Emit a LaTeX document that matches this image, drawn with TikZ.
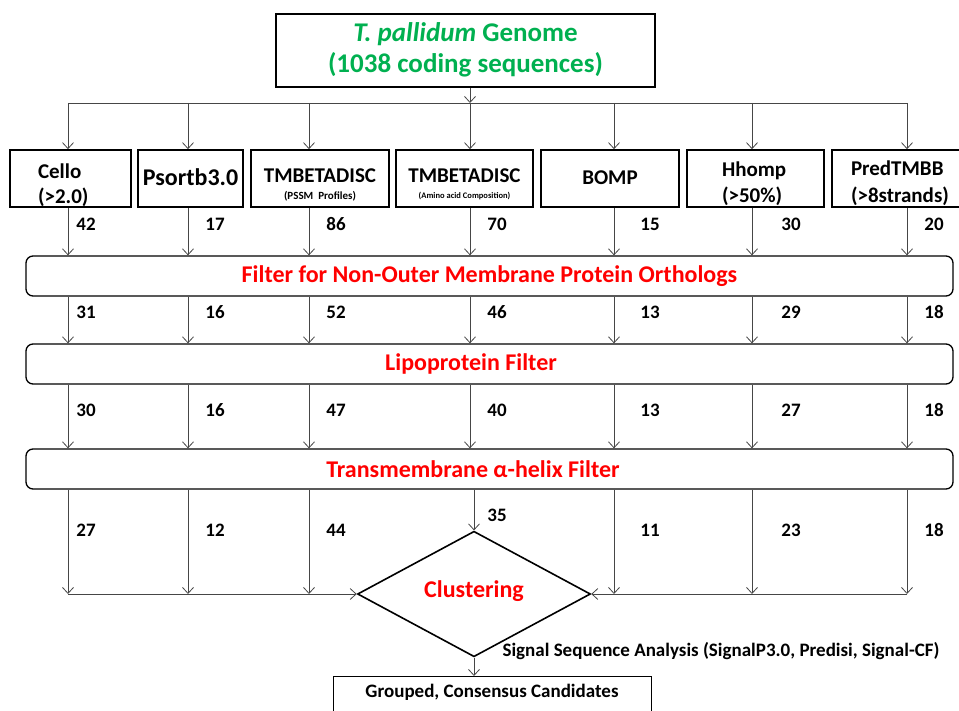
\documentclass[tikz,border=0pt]{standalone}
\usepackage{fontspec}
\setmainfont{Carlito}
\usetikzlibrary{arrows.meta,shapes.geometric,positioning}
\definecolor{tpgreen}{RGB}{0,176,80}
\definecolor{arrgray}{RGB}{70,70,70}
\newcommand{\fs}[1]{\bfseries\fontsize{#1}{#1}\selectfont}

\begin{document}
\begin{tikzpicture}[x=1pt,y=-1pt]

  \tikzset{
    tool/.style={draw,line width=1.6pt,minimum height=57pt,inner sep=0pt,
      align=center,font=\fs{21},text depth=0pt},
    filt/.style={draw,line width=1.3pt,rounded corners=7pt,minimum width=927pt,
      minimum height=40pt,text=red,font=\fs{24}},
    num/.style={font=\fs{19},text height=13pt,text depth=0pt},
    bus/.style={draw=arrgray,line width=0.8pt},
    flow/.style={bus,-{Straight Barb[length=6pt,width=11pt,line width=0.8pt]}}
  }
  \useasboundingbox (0,0) rectangle (959,711);

  % genome and the seven predictors
  \node[draw,line width=1.6pt,minimum width=379pt,minimum height=73pt,align=center,
    text=tpgreen,font=\fs{27},text height=45pt,text depth=0pt] (genome) at (465.5,50.5)
    {\textit{T. pallidum} Genome\\[4.5pt](1038 coding sequences)};

  \foreach \i/\x in {1/68,2/188,3/309,4/470,5/614,6/752,7/907}
    \coordinate (b\i) at (\x,103);

  \node[tool,minimum width=121pt,text width=65pt,align=left,text height=1pt]
    (cello) at (70.5,178.5) {Cello\\[4pt](>2.0)};
  \node[tool,minimum width=105pt,font=\fs{24},text height=15pt]
    (psortb) at (190.5,178.5) {Psortb3.0};
  \node[tool,minimum width=138pt,text height=43pt] (tmbpssm) at (320,178.5)
    {TMBETADISC\\[-4pt]{\fs{11}(PSSM~ Profiles)}};
  \node[tool,minimum width=137pt,text height=41pt] (tmbaa) at (464.5,178.5)
    {TMBETADISC\\[-5pt]{\fs{8.5}(Amino acid Composition)}};
  \node[tool,minimum width=138pt,text height=13pt] (bomp) at (610,178.5) {BOMP};
  \node[tool,minimum width=137pt,text width=67pt,align=left,text height=0pt,
    text depth=3pt] (hhomp) at (755.5,178.5) {Hhomp\\[5pt](>50\%)};
  \node[tool,minimum width=132pt,text width=94pt,align=left,text height=0pt,
    text depth=5pt] (predtmbb) at (898,178.5) {PredTMBB\\[6pt](>8strands)};

  \draw[flow] (b4 |- genome.south) -- (b4);
  \draw[bus] (b1) -- (b7);
  \foreach \i/\n in {1/cello,2/psortb,3/tmbpssm,4/tmbaa,5/bomp,6/hhomp,7/predtmbb}
    \draw[flow] (b\i) -- (b\i |- \n.north);

  % filters
  \node[filt] (omp) at (489.5,276) {Filter for Non-Outer Membrane Protein Orthologs};
  \node[filt] (lipo) at (489.5,364) {Lipoprotein Filter\hspace*{37pt}};
  \node[filt] (tmh) at (489.5,469) {Transmembrane α-helix Filter\hspace*{33pt}};

  \foreach \i/\n in {1/cello,2/psortb,3/tmbpssm,4/tmbaa,5/bomp,6/hhomp,7/predtmbb}{
    \draw[flow] (b\i |- \n.south) -- (b\i |- omp.north);
    \draw[flow] (b\i |- omp.south) -- (b\i |- lipo.north);
    \draw[flow] (b\i |- lipo.south) -- (b\i |- tmh.north);
  }

  \foreach \i/\x/\a/\b/\c/\d in {1/86/42/31/30/27,2/215/17/16/16/12,3/336/86/52/47/44,
      5/650/15/13/13/11,6/791/30/29/27/23,7/934/20/18/18/18}{
    \node[num] (na\i) at (\x,224) {\a};
    \node[num] (nb\i) at (\x,312) {\b};
    \node[num] (nc\i) at (\x,410) {\c};
    \node[num] (nd\i) at (\x,530) {\d};
  }
  \node[num] (na4) at (497,224) {70};
  \node[num] (nb4) at (497,312) {46};
  \node[num] (nc4) at (497,410) {40};
  \node[num] (nd4) at (497,515) {35};

  % clustering
  \node[diamond,draw,line width=1.6pt,minimum width=233pt,minimum height=96pt,
    inner sep=0pt,text=red,font=\fs{24},text height=16pt,text depth=10pt]
    (clust) at (474,594) {Clustering};

  \foreach \i in {1,2,3,5,6,7}
    \draw[flow] (b\i |- tmh.south) -- (b\i |- clust);
  \draw[flow] (b1 |- clust) -- (clust.west);
  \draw[flow] (b7 |- clust) -- (clust.east);
  \draw[flow] (clust.north |- tmh.south) -- (clust.north);

  \node[draw,line width=0.8pt,minimum width=318pt,inner ysep=0pt,text height=21pt,
    text depth=40pt,anchor=north,font=\fs{19}] (cand) at (492,676)
    {Grouped, Consensus Candidates};
  \node[anchor=west,font=\fs{19}] (sig) at (499,651)
    {Signal Sequence Analysis (SignalP3.0, Predisi, Signal-CF)};
  \draw[flow] (clust.south) -- (clust.south |- cand.north);

\end{tikzpicture}
\end{document}
